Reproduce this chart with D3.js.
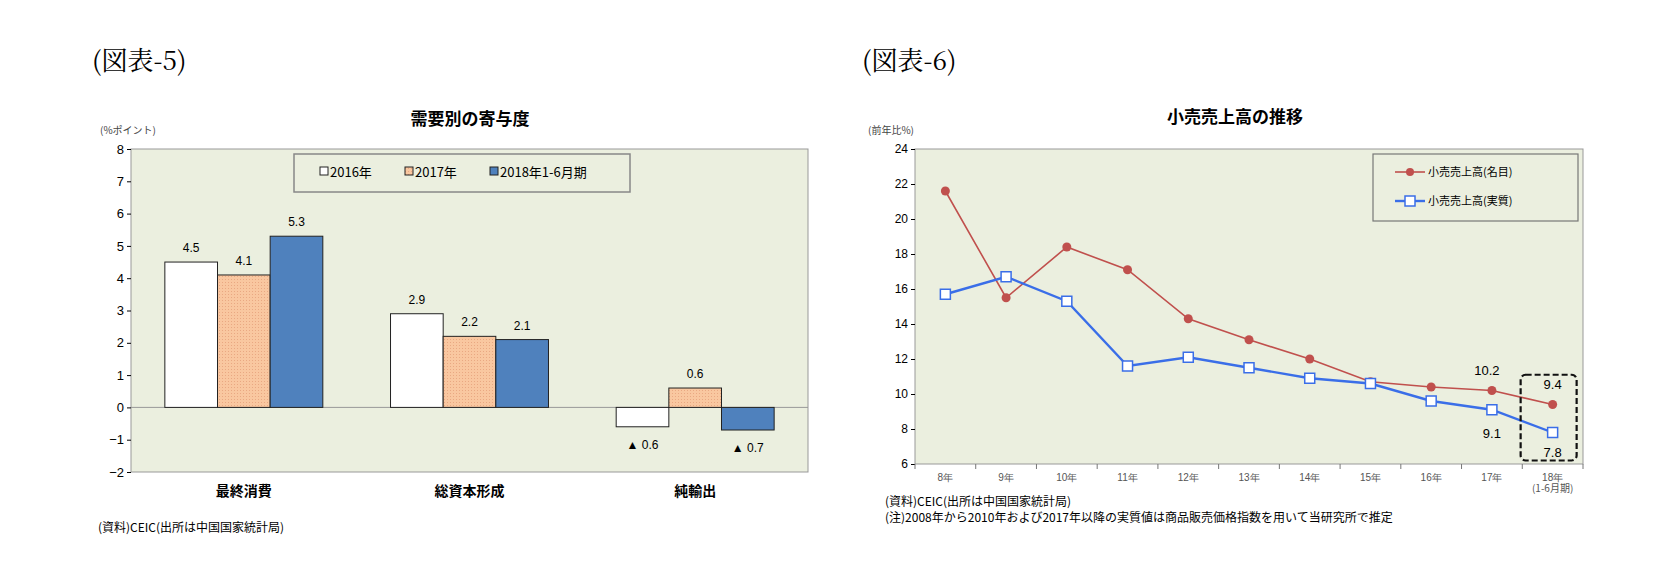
<!DOCTYPE html>
<html><head><meta charset="utf-8">
<script src="https://cdn.jsdelivr.net/npm/d3@7"></script>
<style>body{margin:0;background:#fff}svg{font-family:"Noto Sans CJK JP",sans-serif}</style>
</head><body><svg id="c" width="1680" height="579"></svg>
<script>
// left chart data
const demandCats = ["最終消費", "総資本形成", "純輸出"];
const demandSeries = ["2016年", "2017年", "2018年1-6月期"];
const demand2016 = [4.5, 2.9, -0.6];
const demand2017 = [4.1, 2.2, 0.6];
const demand2018 = [5.3, 2.1, -0.7];
const demandTicks = [-2, -1, 0, 1, 2, 3, 4, 5, 6, 7, 8];

// right chart data
const years = ["8年", "9年", "10年", "11年", "12年", "13年", "14年", "15年", "16年", "17年", "18年"];
const nominal = [21.6, 15.5, 18.4, 17.1, 14.3, 13.1, 12.0, 10.7, 10.4, 10.2, 9.4];
const real = [15.7, 16.7, 15.3, 11.6, 12.1, 11.5, 10.9, 10.6, 9.6, 9.1, 7.8];
const retailTicks = [6, 8, 10, 12, 14, 16, 18, 20, 22, 24];

const svg = d3.select("#c");
const bg = "#ebefdf";
const defs = svg.append("defs");
const pat = defs.append("pattern").attr("id", "hatch").attr("width", 3).attr("height", 3)
    .attr("patternUnits", "userSpaceOnUse");
pat.append("rect").attr("width", 3).attr("height", 3).attr("fill", "#f9c7a0");
pat.append("rect").attr("width", 1).attr("height", 1).attr("fill", "#e9a882");

svg.append("text").attr("x", 92).attr("y", 70).attr("font-size", 26).attr("font-family", "Noto Serif CJK JP, serif").text("(図表-5)");
svg.append("text").attr("x", 862).attr("y", 70).attr("font-size", 26).attr("font-family", "Noto Serif CJK JP, serif").text("(図表-6)");

// ---- left: bars
(function () {
    const L = 131, R = 808, T = 149, B = 472;
    const g = svg.append("g");
    const y = d3.scaleLinear().domain([-2, 8]).range([B, T]);
    const x0 = d3.scaleBand().domain(demandCats).range([L, R]).paddingInner(0.3).paddingOuter(0.15);
    const x1 = d3.scaleBand().domain(demandSeries).range([0, x0.bandwidth()]);
    g.append("rect").attr("x", L).attr("y", T).attr("width", R - L).attr("height", B - T)
        .attr("fill", bg).attr("stroke", "#999");
    g.append("text").attr("x", 470).attr("y", 125).attr("text-anchor", "middle").attr("font-size", 17).attr("font-weight", "bold").text("需要別の寄与度");
    g.append("text").attr("x", 100).attr("y", 134).attr("font-size", 10).attr("fill", "#444").text("(%ポイント)");
    g.append("g").attr("transform", `translate(${L},0)`)
        .call(d3.axisLeft(y).tickValues(demandTicks).tickSize(4).tickFormat(d => d < 0 ? "−" + -d : d))
        .call(a => a.select(".domain").remove())
        .call(a => a.selectAll("text").attr("font-size", 13).attr("font-family", "Liberation Sans Narrow, Liberation Sans, sans-serif"));
    g.append("line").attr("x1", L).attr("x2", R).attr("y1", y(0)).attr("y2", y(0)).attr("stroke", "#999");
    const fills = ["#fff", "url(#hatch)", "#4f81bd"];
    const vals = [demand2016, demand2017, demand2018];
    demandSeries.forEach((s, si) => {
        demandCats.forEach((c, ci) => {
            const v = vals[si][ci];
            const bx = x0(c) + x1(s);
            g.append("rect").attr("x", bx).attr("width", x1.bandwidth())
                .attr("y", y(Math.max(0, v))).attr("height", Math.abs(y(v) - y(0)))
                .attr("fill", fills[si]).attr("stroke", "#222").attr("stroke-width", 1);
            g.append("text").attr("x", bx + x1.bandwidth() / 2)
                .attr("y", v >= 0 ? y(v) - 10 : y(v) + 22).attr("text-anchor", "middle")
                .attr("font-size", 12).attr("font-family", "Liberation Sans Narrow, sans-serif")
                .text(v >= 0 ? v.toFixed(1) : "▲ " + Math.abs(v).toFixed(1));
        });
        g.append("text").attr("x", 0).attr("y", 0);
    });
    demandCats.forEach(c => g.append("text").attr("x", x0(c) + x0.bandwidth() / 2).attr("y", 496)
        .attr("text-anchor", "middle").attr("font-size", 14).attr("font-weight", "bold").text(c));
    // legend
    g.append("rect").attr("x", 294).attr("y", 154).attr("width", 336).attr("height", 38)
        .attr("fill", bg).attr("stroke", "#888").attr("stroke-width", 1.5);
    const lx = [320, 405, 490];
    demandSeries.forEach((s, i) => {
        g.append("rect").attr("x", lx[i]).attr("y", 167).attr("width", 8).attr("height", 8)
            .attr("fill", fills[i]).attr("stroke", "#222");
        g.append("text").attr("x", lx[i] + 10).attr("y", 177).attr("font-size", 13).text(s);
    });
    g.append("text").attr("x", 98).attr("y", 532).attr("font-size", 12).text("(資料)CEIC(出所は中国国家統計局)");
})();

// ---- right: lines
(function () {
    const L = 915, R = 1583, T = 149, B = 464;
    const g = svg.append("g");
    const y = d3.scaleLinear().domain([6, 24]).range([B, T]);
    const x = d3.scaleBand().domain(years).range([L, R]);
    const cx = d => x(d) + x.bandwidth() / 2;
    g.append("rect").attr("x", L).attr("y", T).attr("width", R - L).attr("height", B - T)
        .attr("fill", bg).attr("stroke", "#999");
    g.append("text").attr("x", 1235).attr("y", 123).attr("text-anchor", "middle").attr("font-size", 17).attr("font-weight", "bold").text("小売売上高の推移");
    g.append("text").attr("x", 868).attr("y", 134).attr("font-size", 10).attr("fill", "#444").text("(前年比%)");
    g.append("g").attr("transform", `translate(${L},0)`)
        .call(d3.axisLeft(y).tickValues(retailTicks).tickSize(4))
        .call(a => a.select(".domain").remove())
        .call(a => a.selectAll("text").attr("font-size", 12).attr("font-family", "Liberation Sans Narrow, sans-serif"));
    g.append("g").attr("transform", `translate(0,${B})`)
        .call(d3.axisBottom(x).tickSize(0).tickPadding(10))
        .call(a => a.select(".domain").remove())
        .call(a => a.selectAll("text").attr("font-size", 10).attr("fill", "#555"));
    g.selectAll("line.xt").data(d3.range(years.length + 1)).join("line").attr("class", "xt")
        .attr("x1", i => L + i * x.bandwidth()).attr("x2", i => L + i * x.bandwidth())
        .attr("y1", B).attr("y2", B + 5).attr("stroke", "#777");
    g.append("text").attr("x", cx("18年")).attr("y", 492).attr("text-anchor", "middle").attr("font-size", 10).attr("fill", "#555").text("(1-6月期)");
    const line = d3.line().x((d, i) => cx(years[i])).y(d => y(d));
    g.append("path").attr("d", line(nominal)).attr("fill", "none").attr("stroke", "#c0504d").attr("stroke-width", 1.6);
    g.append("path").attr("d", line(real)).attr("fill", "none").attr("stroke", "#3a6ee8").attr("stroke-width", 2.4);
    g.selectAll("circle.n").data(nominal).join("circle").attr("class", "n")
        .attr("cx", (d, i) => cx(years[i])).attr("cy", d => y(d)).attr("r", 4.5).attr("fill", "#c0504d");
    g.selectAll("rect.r").data(real).join("rect").attr("class", "r")
        .attr("x", (d, i) => cx(years[i]) - 5).attr("y", d => y(d) - 5).attr("width", 10).attr("height", 10)
        .attr("fill", "#fff").attr("stroke", "#3a6ee8").attr("stroke-width", 1.5);
    const lab = (t, xx, yy) => g.append("text").attr("x", xx).attr("y", yy).attr("text-anchor", "middle")
        .attr("font-size", 13).attr("font-family", "Liberation Sans Narrow, sans-serif").text(t);
    lab("10.2", cx("17年") - 5, y(10.2) - 16);
    lab("9.4", cx("18年"), y(9.4) - 16);
    lab("9.1", cx("17年"), y(9.1) + 28);
    lab("7.8", cx("18年"), y(7.8) + 24);
    g.append("rect").attr("x", cx("18年") - 32).attr("y", y(11.1)).attr("width", 56).attr("height", y(6.2) - y(11.1))
        .attr("rx", 5).attr("fill", "none").attr("stroke", "#111").attr("stroke-width", 2.2).attr("stroke-dasharray", "6,3");
    // legend
    g.append("rect").attr("x", 1373).attr("y", 154).attr("width", 205).attr("height", 67)
        .attr("fill", bg).attr("stroke", "#777").attr("stroke-width", 1.2);
    g.append("line").attr("x1", 1395).attr("x2", 1425).attr("y1", 172).attr("y2", 172).attr("stroke", "#c0504d").attr("stroke-width", 1.6);
    g.append("circle").attr("cx", 1410).attr("cy", 172).attr("r", 4).attr("fill", "#c0504d");
    g.append("line").attr("x1", 1395).attr("x2", 1425).attr("y1", 201).attr("y2", 201).attr("stroke", "#3a6ee8").attr("stroke-width", 2.4);
    g.append("rect").attr("x", 1405).attr("y", 196).attr("width", 10).attr("height", 10).attr("fill", "#fff").attr("stroke", "#3a6ee8").attr("stroke-width", 1.5);
    g.append("text").attr("x", 1428).attr("y", 176).attr("font-size", 11).text("小売売上高(名目)");
    g.append("text").attr("x", 1428).attr("y", 205).attr("font-size", 11).text("小売売上高(実質)");
    g.append("text").attr("x", 885).attr("y", 506).attr("font-size", 12).text("(資料)CEIC(出所は中国国家統計局)");
    g.append("text").attr("x", 885).attr("y", 522).attr("font-size", 12).text("(注)2008年から2010年および2017年以降の実質値は商品販売価格指数を用いて当研究所で推定");
})();
</script></body></html>
